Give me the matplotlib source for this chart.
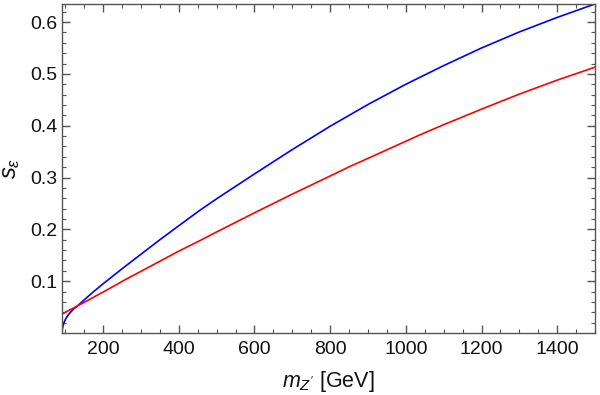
import matplotlib
matplotlib.use("Agg")
import matplotlib.pyplot as plt
from matplotlib.ticker import MultipleLocator

plt.rcParams['font.family'] = ['Liberation Sans', 'DejaVu Sans']
plt.rcParams['mathtext.fontset'] = 'custom'
plt.rcParams['mathtext.rm'] = 'Liberation Sans'
plt.rcParams['mathtext.it'] = 'Liberation Sans:italic'

# values
m_blue = [91.19, 92, 94, 97, 100, 105, 110, 120, 135, 150, 175, 200, 250, 300, 350,
          400, 455, 500, 600, 700, 800, 900, 1000, 1100, 1200, 1300, 1400, 1500]
s_blue = [0.0, 0.007, 0.014, 0.021, 0.026, 0.032, 0.037, 0.045, 0.054, 0.064, 0.080,
          0.095, 0.124, 0.152, 0.180, 0.207, 0.2365, 0.259, 0.307, 0.354, 0.399, 0.441,
          0.480, 0.516, 0.550, 0.581, 0.609, 0.635]

m_red = [91.19, 134, 200, 222, 261, 300, 400, 455, 500, 600, 700, 800, 851, 900,
         1000, 1036, 1100, 1200, 1300, 1400, 1500]
s_red = [0.0365, 0.053, 0.079, 0.088, 0.104, 0.119, 0.158, 0.178, 0.195, 0.232, 0.268,
         0.303, 0.321, 0.337, 0.370, 0.382, 0.402, 0.432, 0.461, 0.488, 0.513]

fig = plt.figure(figsize=(6, 3.95), dpi=100)
ax = fig.add_axes([0.1033, 0.157, 0.8884, 0.833])

ax.plot(m_blue, s_blue, color='#0000ff', lw=1.2)
ax.plot(m_red, s_red, color='#ff0000', lw=1.2)

ax.set_xlim(91.19, 1500)
ax.set_ylim(0, 0.635)

ax.xaxis.set_major_locator(MultipleLocator(200))
ax.xaxis.set_minor_locator(MultipleLocator(50))
ax.yaxis.set_minor_locator(MultipleLocator(0.02))
ax.set_yticks([0.1, 0.2, 0.3, 0.4, 0.5, 0.6])
ax.set_yticklabels(['0.1', '0.2', '0.3', '0.4', '0.5', '0.6'])

ax.tick_params(which='both', direction='in', top=True, right=True,
               color='#555555', labelsize=14, labelcolor='#111111')
ax.tick_params(which='major', length=6, width=1.0)
ax.tick_params(axis='y', which='major', pad=3)
ax.tick_params(axis='x', which='major', pad=6)
ax.tick_params(which='minor', length=3, width=0.8)
for sp in ax.spines.values():
    sp.set_color('#555555')
    sp.set_linewidth(1.0)

ax.set_xlabel(r"$m_{Z^{\prime}}$ [GeV]", fontsize=15.5, color='#111111', labelpad=8)
ax.set_ylabel(r"$s_{\epsilon}$", fontsize=17, color='#111111', labelpad=6)

fig.savefig("out.png", dpi=100)
